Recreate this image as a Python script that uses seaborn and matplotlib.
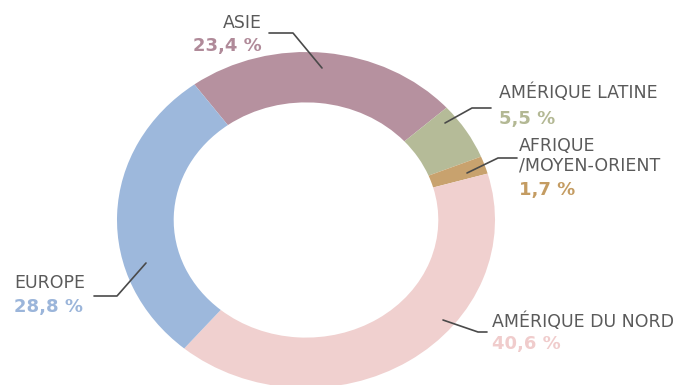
import matplotlib
matplotlib.use("Agg")
import matplotlib.pyplot as plt
import seaborn as sns

# ---- data ----
categories = ["ASIE", "AMÉRIQUE LATINE", "AFRIQUE\n/MOYEN-ORIENT", "AMÉRIQUE DU NORD", "EUROPE"]
shares = [23.4, 5.5, 1.7, 40.6, 28.8]
share_labels = ["23,4 %", "5,5 %", "1,7 %", "40,6 %", "28,8 %"]
colors = ["#b6919f", "#b5bb98", "#c8a26e", "#f0d0cf", "#9db8dc"]
text_colors = ["#b08a99", "#b3b894", "#c49c62", "#f0cccc", "#9bb5da"]

sns.set_theme(style="white")
plt.rcParams['font.family'] = ['DejaVu Sans']

W, H = 681, 385
fig = plt.figure(figsize=(W / 100, H / 100), dpi=100)
ax = fig.add_axes([0, 0, 1, 1])

CX, CY, RX, RY = 306, 220, 189, 168


def p(x, y):
    return (x - CX) / RX, (CY - y) / RY


ax.pie(shares, colors=colors, startangle=126.2, counterclock=False,
       radius=1.0, wedgeprops=dict(width=0.30, edgecolor="none", linewidth=0))
ax.set_aspect("auto")
ax.set_xlim(-CX / RX, (W - CX) / RX)
ax.set_ylim((CY - H) / RY, CY / RY)
ax.axis("off")

label_color = "#5a5a5a"
line_color = "#4a4a4a"
fs_lab = 12.5
fs_pct = 13

# leader lines (pixel layout -> data)
leaders = [
    [(269, 33), (293, 33), (322, 68)],
    [(491, 108), (472, 108), (445, 123)],
    [(517, 158), (498, 158), (467, 173)],
    [(487, 332), (478, 332), (443, 320)],
    [(94, 296), (117, 296), (146, 263)],
]
for pts in leaders:
    xs, ys = zip(*[p(*q) for q in pts])
    ax.plot(xs, ys, color=line_color, lw=1.2, solid_capstyle="round")

# text layout: (x, y_label, y_pct, ha)
layout = [
    (262, 23, 46, "right"),
    (499, 93, 119, "left"),
    (519, 156, 190, "left"),
    (492, 322, 344, "left"),
    (14, 283, 307, "left"),
]
for cat, pct, tc, (x, yl, yp, ha) in zip(categories, share_labels, text_colors, layout):
    ax.text(*p(x, yl), cat, ha=ha, va="center", color=label_color,
            fontsize=fs_lab, linespacing=1.1)
    ax.text(*p(x, yp), pct, ha=ha, va="center", color=tc,
            fontsize=fs_pct, fontweight="bold")

fig.savefig("out.png", dpi=100, facecolor="white")
